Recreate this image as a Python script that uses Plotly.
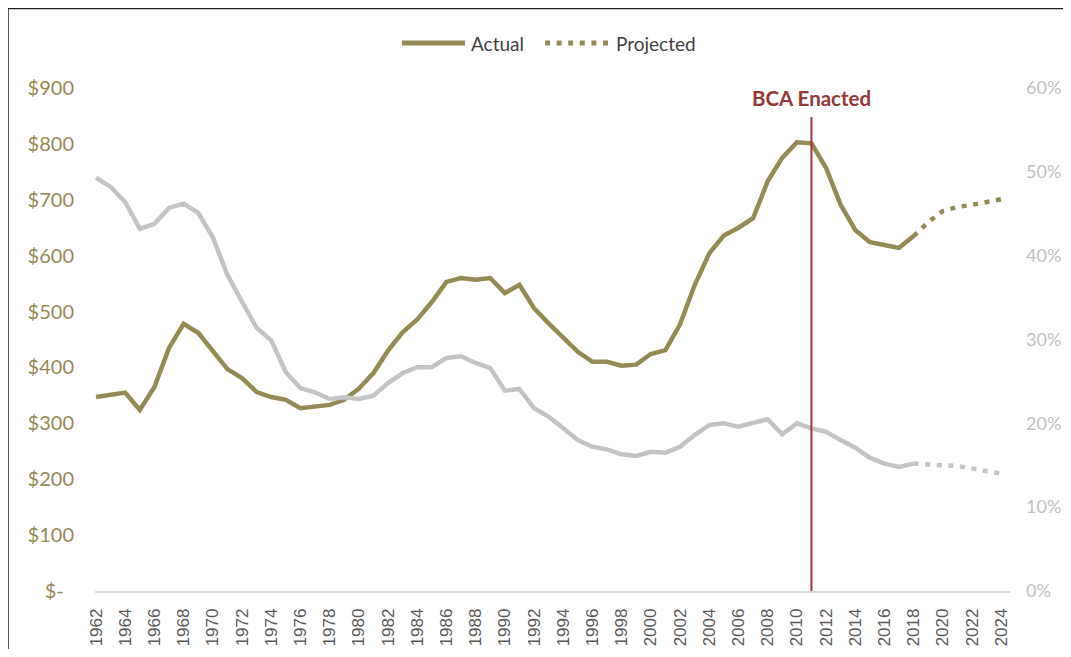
import plotly.graph_objects as go

# ---- data ----
actual_years = list(range(1962, 2019))
actual_spending = [347, 351, 355, 324, 365, 435, 478, 462, 431, 397,
                   381, 356, 347, 342, 327, 331, 333, 342, 362, 390,
                   430, 463, 486, 517, 553, 560, 557, 560, 533, 548,
                   506, 479, 453, 428, 410, 410, 403, 405, 424, 431,
                   477, 547, 604, 636, 650, 667, 733, 775, 803, 801,
                   757, 691, 646, 624, 619, 614, 635]
actual_share = [49.3, 48.2, 46.4, 43.2, 43.8, 45.7, 46.2, 45.1, 42.2, 37.7,
                34.5, 31.4, 29.9, 26.1, 24.2, 23.7, 22.9, 23.1, 22.9, 23.3,
                24.8, 26.0, 26.7, 26.7, 27.8, 28.0, 27.2, 26.6, 23.9, 24.1,
                21.8, 20.8, 19.4, 18.0, 17.2, 16.9, 16.3, 16.1, 16.6, 16.5,
                17.2, 18.6, 19.8, 20.0, 19.6, 20.0, 20.5, 18.7, 20.0, 19.4,
                19.0, 18.0, 17.1, 15.9, 15.2, 14.8, 15.2]
proj_years = [2018, 2019, 2020, 2021, 2022, 2023, 2024]
proj_spending = [635, 660, 680, 687, 691, 695, 701]
proj_share = [15.2, 15.1, 15.0, 14.9, 14.6, 14.3, 14.0]

left_tickvals = [0, 100, 200, 300, 400, 500, 600, 700, 800, 900]
left_ticktext = ["$-\u00a0\u00a0", "$100", "$200", "$300", "$400", "$500",
                 "$600", "$700", "$800", "$900"]
right_tickvals = [0, 10, 20, 30, 40, 50, 60]
right_ticktext = ["0%", "10%", "20%", "30%", "40%", "50%", "60%"]
x_tickvals = list(range(1962, 2025, 2))
bca_year = 2011
bca_label = "BCA Enacted"
legend_labels = ["Actual", "Projected"]

OLIVE = "#948A54"
GRAY = "#C4C4C4"
DOT = "5px,6.6px"

# figure geometry (page is offset by the 8px body margin)
W, H = 1055, 641
ML, MT = 87, 80
PW, PH = 915, 503
MR, MB = W - ML - PW, H - MT - PH


def px(fx):
    return (fx - ML) / PW


def py(fy):
    return (MT + PH - fy) / PH


fig = go.Figure()
fig.add_trace(go.Scatter(x=actual_years, y=[v / 100 for v in actual_share], yaxis="y2",
                         mode="lines", line=dict(color=GRAY, width=4.5),
                         showlegend=False, hoverinfo="skip"))
fig.add_trace(go.Scatter(x=proj_years, y=[v / 100 for v in proj_share], yaxis="y2",
                         mode="lines", line=dict(color=GRAY, width=4.5, dash=DOT),
                         showlegend=False, hoverinfo="skip"))
fig.add_trace(go.Scatter(x=actual_years, y=actual_spending, mode="lines",
                         line=dict(color=OLIVE, width=4.5), name=legend_labels[0],
                         showlegend=False))
fig.add_trace(go.Scatter(x=proj_years, y=proj_spending, mode="lines",
                         line=dict(color=OLIVE, width=4.5, dash=DOT), name=legend_labels[1],
                         showlegend=False))

# BCA marker
fig.add_shape(type="line", xref="x", yref="y", x0=bca_year, x1=bca_year, y0=0, y1=848,
              line=dict(color="#A8343A", width=2))
fig.add_annotation(x=bca_year, y=882, xref="x", yref="y", text="<b>%s</b>" % bca_label,
                   showarrow=False, font=dict(family="Lato", size=20.5, color="#953735"),
                   xanchor="center", yanchor="middle")

# legend (drawn manually to match long samples)
ly = py(35)
fig.add_shape(type="line", xref="paper", yref="paper", x0=px(394), x1=px(457), y0=ly, y1=ly,
              line=dict(color=OLIVE, width=5))
fig.add_annotation(x=px(461), y=ly, xref="paper", yref="paper", text=legend_labels[0],
                   showarrow=False, xanchor="left", yanchor="middle",
                   font=dict(family="Lato", size=19, color="#404040"))
fig.add_shape(type="line", xref="paper", yref="paper", x0=px(537), x1=px(603), y0=ly, y1=ly,
              line=dict(color=OLIVE, width=5, dash=DOT))
fig.add_annotation(x=px(606), y=ly, xref="paper", yref="paper", text=legend_labels[1],
                   showarrow=False, xanchor="left", yanchor="middle",
                   font=dict(family="Lato", size=19, color="#404040"))

# picture frame (left and top edges visible)
fig.add_shape(type="rect", xref="paper", yref="paper",
              x0=px(0), x1=px(W + 60), y0=py(H + 60), y1=py(0.5),
              line=dict(color="#222222", width=1.5))

fig.update_layout(
    width=W, height=H,
    margin=dict(l=ML, r=MR, t=MT, b=MB, autoexpand=False),
    paper_bgcolor="white", plot_bgcolor="white",
    font=dict(family="Lato", size=17, color="#404040"),
    showlegend=False,
    xaxis=dict(range=[1961.93, 2024.6], tickmode="array", tickvals=x_tickvals,
               tickangle=-90, showgrid=False, zeroline=False, showline=True,
               linecolor="#D9D9D9", linewidth=1.5, ticks="", ticklabelstandoff=9,
               automargin=False,
               tickfont=dict(family="Liberation Sans", size=17, color="#595959")),
    yaxis=dict(range=[0, 900], tickmode="array", tickvals=left_tickvals,
               ticktext=left_ticktext, showgrid=False, zeroline=False, showline=False,
               ticks="", ticklabelstandoff=20, automargin=False,
               tickfont=dict(family="Lato", size=20, color=OLIVE)),
    yaxis2=dict(range=[0, 0.6], overlaying="y", side="right", tickmode="array",
                tickvals=[v / 100 for v in right_tickvals], ticktext=right_ticktext,
                showgrid=False, zeroline=False, showline=False, ticks="",
                ticklabelstandoff=15, automargin=False,
                tickfont=dict(family="Lato", size=18, color="#BFBFBF")),
)

fig.write_html("out.html")
